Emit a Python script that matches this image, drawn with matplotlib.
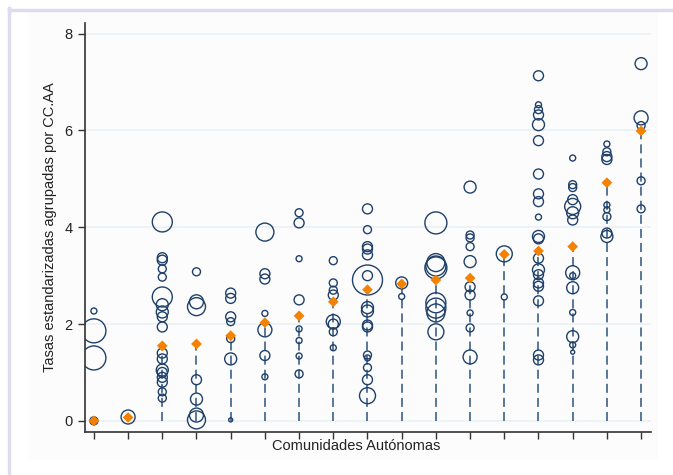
import matplotlib
matplotlib.use("Agg")
import matplotlib.pyplot as plt
from matplotlib.lines import Line2D
from matplotlib.patches import Rectangle

plt.rcParams["font.family"] = ["Liberation Sans", "DejaVu Sans"]

# one entry per Comunidad Autónoma (17), left to right
tasas = [
    [2.27, 1.86, 1.30, 0.00],
    [0.08],
    [4.11, 3.37, 3.32, 3.14, 2.97, 2.56, 2.40, 2.25, 2.15, 1.94, 1.40, 1.28,
     1.05, 1.00, 0.90, 0.80, 0.60, 0.47],
    [3.08, 2.46, 2.36, 0.85, 0.45, 0.12, 0.02],
    [2.64, 2.53, 2.15, 2.05, 1.70, 1.28, 0.02],
    [3.90, 3.04, 2.93, 2.22, 1.88, 1.35, 0.91],
    [4.30, 4.09, 3.35, 2.50, 1.90, 1.66, 1.34, 0.97],
    [3.31, 2.85, 2.70, 2.60, 2.05, 2.00, 1.84, 1.51],
    [4.38, 3.95, 3.60, 3.55, 3.43, 3.00, 2.91, 2.34, 2.27, 1.98, 1.94, 1.36,
     1.30, 1.10, 0.85, 0.52],
    [2.85, 2.57],
    [4.09, 3.27, 3.20, 3.16, 2.44, 2.33, 2.23, 1.84],
    [4.83, 3.84, 3.78, 3.60, 3.29, 2.77, 2.60, 2.23, 1.92, 1.32],
    [3.45, 2.56],
    [7.13, 6.53, 6.43, 6.32, 6.12, 5.79, 5.10, 4.69, 4.53, 4.21, 3.81, 3.76,
     3.36, 3.12, 3.02, 2.85, 2.78, 2.48, 1.36, 1.26],
    [5.43, 4.88, 4.82, 4.57, 4.43, 4.30, 4.15, 3.06, 3.00, 2.75, 2.24, 1.74,
     1.57, 1.42],
    [5.72, 5.56, 5.46, 5.40, 4.46, 4.36, 4.22, 3.88, 3.81],
    [7.38, 6.26, 6.10, 4.96, 4.38],
]
# bubble weight of each point (relative population)
pesos = [
    [3, 12, 12, 4],
    [7],
    [10, 5, 5, 4, 4, 10, 6, 6, 5, 5, 5, 5, 6, 5, 5, 5, 4, 4],
    [4, 7, 9, 5, 6, 7, 9],
    [5, 5, 5, 4, 4, 6, 2],
    [9, 5, 5, 3, 7, 5, 3],
    [4, 5, 3, 5, 3, 3, 3, 4],
    [4, 4, 4, 5, 7, 5, 4, 3],
    [5, 4, 5, 5, 5, 5, 15, 6, 6, 5, 5, 4, 3, 4, 5, 8],
    [6, 3],
    [11, 9, 10, 11, 10, 10, 9, 8],
    [6, 4, 4, 4, 6, 5, 5, 3, 4, 7],
    [8, 3],
    [5, 3, 4, 5, 6, 5, 5, 5, 5, 3, 6, 5, 5, 6, 5, 5, 5, 5, 5, 5],
    [3, 4, 4, 5, 8, 6, 5, 7, 3, 6, 3, 6, 3, 2],
    [3, 4, 5, 5, 3, 3, 4, 5, 6],
    [6, 7, 4, 4, 4],
]
# aggregated rate per community (orange diamond)
agregada = [0.00, 0.07, 1.55, 1.59, 1.76, 2.03, 2.17, 2.46, 2.71, 2.83,
            2.91, 2.95, 3.44, 3.51, 3.60, 4.92, 5.99]

NAVY = "#1f406a"
DASH = "#4a6c93"
ORANGE = "#f48100"
GRID = "#e9f0f5"

W, H = 673, 475
fig = plt.figure(figsize=(W / 100, H / 100), dpi=100)
fig.patch.set_facecolor("white")

# outer frame (page decoration)
fig.add_artist(Rectangle((28 / W, 15 / H), 630 / W, 447 / H, transform=fig.transFigure,
                         facecolor="#fcfcfc", edgecolor="none", zorder=-5))
fig.add_artist(Line2D([9 / W, 9 / W], [0, 1 - 8 / H], transform=fig.transFigure,
                      color="#dcdcee", lw=2.5))
fig.add_artist(Line2D([9 / W, 1], [1 - 10 / H, 1 - 10 / H], transform=fig.transFigure,
                      color="#dcdcee", lw=2.5))

ax = fig.add_axes([85 / W, (H - 432) / H, (651 - 85) / W, (432 - 23) / H])
ax.set_facecolor("#fcfcfc")

n = len(tasas)
xs = list(range(1, n + 1))

for x, med in zip(xs, agregada):
    ax.plot([x, x], [0, med], color=DASH, lw=1.3, dashes=(5, 2.8), zorder=2)

for x, vals, w in zip(xs, tasas, pesos):
    sizes = [(1.44 * r) ** 2 for r in w]
    ax.scatter([x] * len(vals), vals, s=sizes, facecolors="none",
               edgecolors=NAVY, linewidths=1.0, zorder=3)

ax.scatter(xs, agregada, marker="D", s=30, color=ORANGE, edgecolors="none", zorder=4)

ax.set_xlim(0.74, 17.29)
ax.set_ylim(-0.23, 8.22)
ax.set_yticks([0, 2, 4, 6, 8])
ax.set_xticks(xs)
ax.set_xticklabels([])
ax.yaxis.grid(True, color=GRID, lw=1.2)
ax.set_axisbelow(True)
for side in ("top", "right"):
    ax.spines[side].set_visible(False)
for side in ("left", "bottom"):
    ax.spines[side].set_color("#333333")
    ax.spines[side].set_linewidth(1.2)
ax.tick_params(axis="y", length=5, width=1, color="#333333", labelsize=10.5,
               labelcolor="#222222", pad=4)
ax.tick_params(axis="x", length=5, width=1, color="#333333")

ax.set_ylabel("Tasas estandarizadas agrupadas por CC.AA", fontsize=10.5,
              color="#222222", labelpad=5)
fig.text(356 / W, 1 - 446 / H, "Comunidades Autónomas", ha="center", va="center",
         fontsize=10.5, color="#222222")

fig.savefig("out.png", dpi=100)
